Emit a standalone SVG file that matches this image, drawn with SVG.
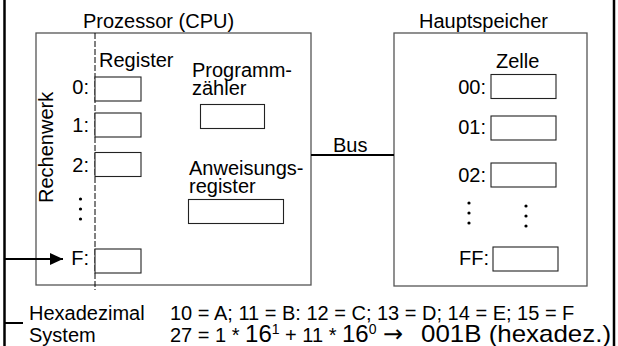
<svg xmlns="http://www.w3.org/2000/svg" width="618" height="346" viewBox="0 0 618 346">
<defs>
<style>
text{font-family:"Liberation Sans",Arial,sans-serif;font-size:20px;fill:#000}
.box{fill:#fff;stroke:#555;stroke-width:1.3}
.cell{fill:#fff;stroke:#222;stroke-width:1.1}
.dash{stroke:#000;stroke-width:1;stroke-dasharray:6,2;fill:none}
.thick{stroke:#000;stroke-width:2.5;fill:none}
.conn{stroke:#000;stroke-width:2;fill:none}
.dot{fill:#000}
.big{font-size:24px}
.sup{font-size:14px}
.arrowglyph{font-family:"DejaVu Sans",sans-serif;font-size:24px}
</style>
<marker id="arr" viewBox="0 0 13 12" refX="13" refY="6" markerWidth="13" markerHeight="12" markerUnits="userSpaceOnUse" orient="auto">
<path d="M0,0 L13,6 L0,12 z" fill="#000"/>
</marker>
</defs>
<rect width="618" height="346" fill="#fff"/>

<g id="frame">
<line class="thick" x1="4.5" y1="0" x2="4.5" y2="346"/>
<line class="thick" x1="614" y1="0" x2="614" y2="346"/>
</g>

<g id="cpu">
<text x="83" y="28">Prozessor (CPU)</text>
<rect class="box" x="36" y="33" width="275" height="252"/>
<line class="dash" x1="95" y1="33" x2="95" y2="290"/>
<text transform="translate(53,203) rotate(-90)">Rechenwerk</text>
<text x="99" y="67">Register</text>
</g>

<g id="reg0">
<text x="89" y="94" text-anchor="end">0:</text>
<rect class="cell" x="95" y="77" width="46" height="24"/>
</g>
<g id="reg1">
<text x="89" y="132" text-anchor="end">1:</text>
<rect class="cell" x="95" y="113" width="46" height="24"/>
</g>
<g id="reg2">
<text x="89" y="172" text-anchor="end">2:</text>
<rect class="cell" x="95" y="152.5" width="46" height="24"/>
</g>
<g id="regdots">
<circle class="dot" cx="80.5" cy="199" r="1.6"/>
<circle class="dot" cx="80.5" cy="209" r="1.6"/>
<circle class="dot" cx="80.5" cy="219" r="1.6"/>
</g>
<g id="regF">
<text x="89" y="265" text-anchor="end">F:</text>
<rect class="cell" x="95" y="249" width="46" height="24"/>
</g>

<g id="pc">
<text x="192" y="77">Programm-</text>
<text x="192" y="95">zähler</text>
<rect class="cell" x="200.5" y="104.5" width="64" height="24"/>
</g>

<g id="ir">
<text x="189" y="175">Anweisungs-</text>
<text x="189" y="193">register</text>
<rect class="cell" x="188.5" y="199.5" width="95" height="24"/>
</g>

<g id="memory">
<text x="419" y="28">Hauptspeicher</text>
<rect class="box" x="394" y="33" width="193" height="253"/>
<text x="496" y="68">Zelle</text>
</g>
<g id="cell00">
<text x="486" y="94" text-anchor="end">00:</text>
<rect class="cell" x="491" y="74.5" width="65" height="24"/>
</g>
<g id="cell01">
<text x="486" y="134" text-anchor="end">01:</text>
<rect class="cell" x="491" y="116" width="65" height="24"/>
</g>
<g id="cell02">
<text x="486" y="182" text-anchor="end">02:</text>
<rect class="cell" x="491" y="163" width="65" height="24"/>
</g>
<g id="celldots">
<circle class="dot" cx="469" cy="203" r="1.6"/>
<circle class="dot" cx="469" cy="213" r="1.6"/>
<circle class="dot" cx="469" cy="223" r="1.6"/>
<circle class="dot" cx="526" cy="206" r="1.6"/>
<circle class="dot" cx="526" cy="216" r="1.6"/>
<circle class="dot" cx="526" cy="226" r="1.6"/>
</g>
<g id="cellFF">
<text x="489" y="265" text-anchor="end">FF:</text>
<rect class="cell" x="493" y="247" width="65" height="24"/>
</g>

<g id="connectors">
<line class="conn" x1="311" y1="155" x2="394" y2="155"/>
<polyline class="conn" points="4.5,259 63,259" marker-end="url(#arr)"/>
<line class="conn" x1="4.5" y1="323" x2="23" y2="323"/>
</g>
<text x="333" y="152">Bus</text>

<g id="hex">
<text x="29" y="320">Hexadezimal</text>
<text x="29" y="342">System</text>
<text x="170" y="320">10 = A; 11 = B: 12 = C; 13 = D; 14 = E; 15 = F</text>
<text x="170" y="342">27 = 1 * <tspan class="big">16</tspan><tspan class="sup" dy="-8">1</tspan><tspan dy="8"> + 11 * </tspan><tspan class="big">16</tspan><tspan class="sup" dy="-8">0</tspan></text>
<text class="arrowglyph" x="383" y="342">→</text>
<text class="big" x="421" y="342" textLength="190" lengthAdjust="spacingAndGlyphs">001B (hexadez.)</text>
</g>
</svg>
